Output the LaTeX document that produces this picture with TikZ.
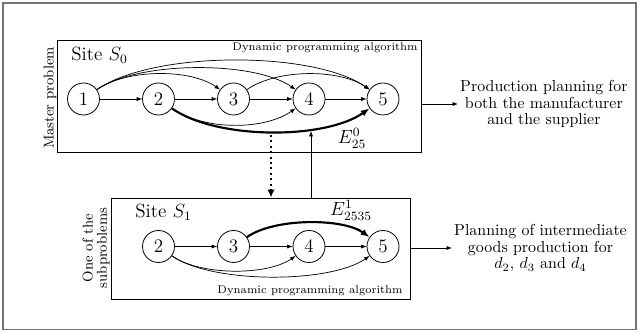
\documentclass[tikz,border=0pt]{standalone}
\usetikzlibrary{arrows.meta}
\begin{document}
\begin{tikzpicture}[x=0.629pt,y=0.629pt,
  vtx/.style={draw, circle, minimum size=32*0.629pt, inner sep=0pt, font=\large, line width=0.5pt},
  arr/.style={-{Latex[length=3.4pt,width=2.6pt]}, line width=0.45pt},
  heavy/.style={-{Latex[length=5.5pt,width=4.2pt]}, line width=1.35pt},
  probbox/.style={draw, rectangle, inner sep=0pt, line width=0.5pt},
  dpa/.style={font=\scriptsize, inner sep=0pt},
  site/.style={font=\large, inner sep=0pt, anchor=west},
  elab/.style={font=\large, inner sep=0pt},
  side/.style={font=\small, rotate=90, inner sep=0pt, align=center},
  outtxt/.style={align=center, anchor=west, inner sep=1.2pt, font=\fontsize{10}{10.5}\selectfont},
  up/.style={out=35, in=145},
  down/.style={out=-35, in=-145}
]
\useasboundingbox (0,0) rectangle (639,-333);
\draw[black!55, line width=1pt] (3,-3) rectangle (636,-329.5);
% boxes
\node[probbox, minimum width=363.5*0.629pt, minimum height=112*0.629pt] (master) at (239.25,-96) {};
\node[probbox, minimum width=299*0.629pt, minimum height=101*0.629pt] (sub) at (260.5,-248.5) {};
% master nodes
\node[vtx] (m1) at (83.5,-99) {1};
\node[vtx] (m2) at (158.5,-99) {2};
\node[vtx] (m3) at (233.5,-99) {3};
\node[vtx] (m4) at (309,-99) {4};
\node[vtx] (m5) at (383,-99) {5};
% sub nodes
\node[vtx] (s2) at (158.5,-246.5) {2};
\node[vtx] (s3) at (233.5,-246.5) {3};
\node[vtx] (s4) at (309,-246.5) {4};
\node[vtx] (s5) at (383,-246.5) {5};
% master edges
\draw[arr] (m1) -- (m2);
\draw[arr] (m2) -- (m3);
\draw[arr] (m3) -- (m4);
\draw[arr] (m4) -- (m5);
\draw[arr] (m1.35) to[up, looseness=0.76] (m3.145);
\draw[arr] (m1.35) to[up, looseness=0.65] (m4.145);
\draw[arr] (m1.35) to[up, looseness=0.64] (m5.145);
\draw[arr] (m3.35) to[up, looseness=0.76] (m5.145);
\draw[arr] (m2.-35) to[down, looseness=0.8] (m4.-145);
\draw[heavy] (m2.-35) to[down, looseness=0.71] (m5.-145);
% sub edges
\draw[arr] (s2) -- (s3);
\draw[arr] (s3) -- (s4);
\draw[arr] (s4) -- (s5);
\draw[heavy] (s3.35) to[up, looseness=0.7] (s5.145);
\draw[arr] (s2.-35) to[down, looseness=0.72] (s4.-145);
\draw[arr] (s2.-35) to[down, looseness=0.63] (s5.-145);
% labels
\node[site] (site0) at (71,-55.5) {Site $S_0$};
\node[site] (site1) at (135,-212.5) {Site $S_1$};
\node[dpa, anchor=east] (dpa0) at (418,-47.5) {Dynamic programming algorithm};
\node[dpa, anchor=east] (dpa1) at (403,-291) {Dynamic programming algorithm};
\node[elab] (e0) at (352,-138.5) {$E^0_{25}$};
\node[elab] (e1) at (351,-210.5) {$E^1_{2535}$};
\node[side] (mp) at (50,-98) {Master problem};
\node[side, font=\fontsize{9}{9}\selectfont] (sp) at (96,-248) {One of the\\subproblems};
% between boxes
\coordinate (dtop) at (271,-135);
\coordinate (ctop) at (311,-131);
\draw[line width=1.2pt, dash pattern=on 1.2pt off 2.2pt, -{Latex[length=5pt,width=4.5pt]}] (dtop) -- (sub.north -| dtop);
\draw[arr] (sub.north -| ctop) -- (ctop);
% outputs
\node[outtxt] (o0) at (458,-104) {Production planning for\\both the manufacturer\\and the supplier};
\node[outtxt] (o1) at (452,-248) {Planning of intermediate\\goods production for\\$d_2$, $d_3$ and $d_4$};
\draw[arr] (master.east |- o0.west) -- (o0.west);
\draw[arr] (sub.east |- o1.west) -- (o1.west);
\end{tikzpicture}
\end{document}
